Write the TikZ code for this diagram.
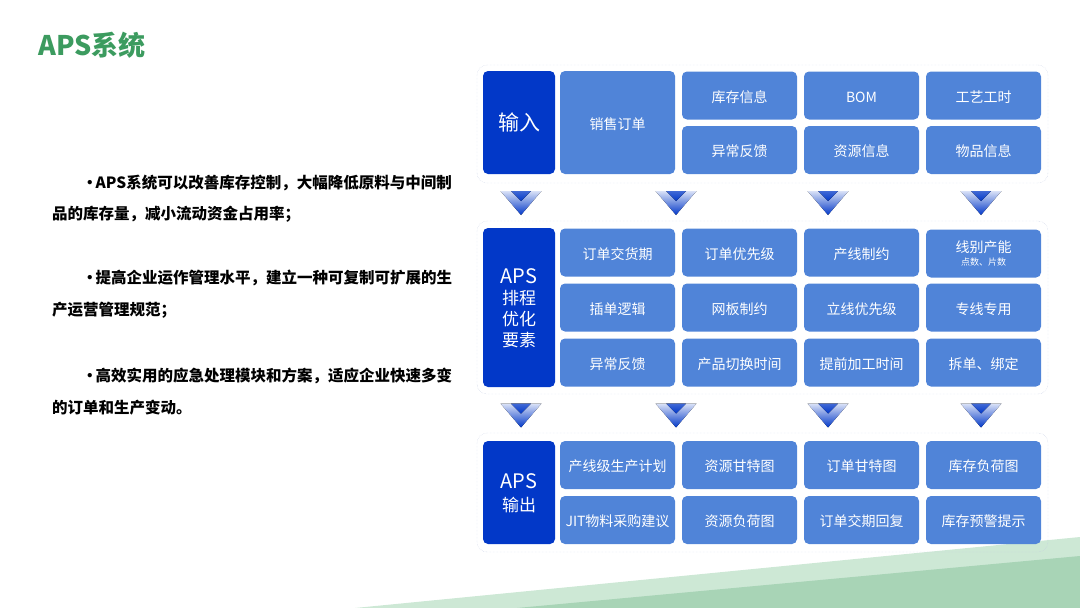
\documentclass[tikz,border=0pt]{standalone}
\usepackage{fontspec}
\setmainfont{Noto Sans CJK SC}
\usetikzlibrary{positioning,calc}

\definecolor{apsgreen}{RGB}{60,155,95}
\definecolor{headblue}{RGB}{2,56,200}
\definecolor{cellblue}{RGB}{80,132,216}
\definecolor{framegray}{RGB}{196,204,226}
\definecolor{leafpale}{RGB}{205,232,213}
\definecolor{leafdeep}{RGB}{168,212,182}

% chevron pointing down, centred on a coordinate
\newcommand{\chevdown}[1]{%
  \fill[top color=white!85!headblue, bottom color=headblue]
    ($(#1)+(-20.5,-12)$) -- ($(#1)+(20.5,-12)$) -- ($(#1)+(0,12)$) -- cycle;
  \fill[top color=headblue!75, bottom color=headblue]
    ($(#1)+(-10,-12)$) -- ($(#1)+(10,-12)$) -- ($(#1)+(0,-2)$) -- cycle;
}

\begin{document}
\begin{tikzpicture}[
    x=1pt, y=-1pt,
    panel/.style={
        draw=framegray,
        densely dotted,
        rounded corners=10pt,
        inner sep=0pt
    },
    head/.style={
        fill=headblue,
        rounded corners=5pt,
        minimum width=72pt,
        text=white,
        inner sep=0pt,
        align=center
    },
    cell/.style={
        fill=cellblue,
        rounded corners=5pt,
        minimum width=115pt,
        minimum height=48pt,
        text=white,
        inner sep=0pt,
        align=center,
        text height=1.3em,
        text depth=0pt,
        font=\fontsize{14}{16}\selectfont
    },
    bullet/.style={
        anchor=west,
        inner sep=0pt,
        font=\fontsize{15.5}{18}\selectfont\bfseries
    }
]
\useasboundingbox (0,0) rectangle (1080,608);

% green band at the bottom
\fill[leafpale] (355,608) -- (1080,537) -- (1080,608) -- cycle;
\fill[leafdeep] (517,608) -- (1080,556) -- (1080,608) -- cycle;

\node[anchor=west, inner sep=0pt, text=apsgreen,
      font=\fontsize{27}{30}\selectfont\bfseries] (title) at (38,45) {APS系统};

% left text
\node[bullet] (p1a) at (82,183) {•\kern-2pt APS系统可以改善库存控制，大幅降低原料与中间制};
\node[bullet] (p1b) at (52,214) {品的库存量，减小流动资金占用率；};
\node[bullet] (p2a) at (82,278) {•\kern-2pt 提高企业运作管理水平，建立一种可复制可扩展的生};
\node[bullet] (p2b) at (52,310) {产运营管理规范；};
\node[bullet] (p3a) at (82,376) {•\kern-2pt 高效实用的应急处理模块和方案，适应企业快速多变};
\node[bullet] (p3b) at (52,408) {的订单和生产变动。};

% frames
\node[panel, minimum width=571pt, minimum height=118pt] (frin) at (762.5,124) {};
\node[panel, minimum width=571pt, minimum height=173pt] (frplan) at (762.5,307.5) {};
\node[panel, minimum width=571pt, minimum height=119pt] (frout) at (762.5,492.5) {};

% input
\node[head, minimum height=103pt, text height=1.6em, text depth=0pt,
      font=\fontsize{21}{24}\selectfont] (inhead) at (519,122.5) {输入};
\node[cell, minimum height=103pt] (sales) at (617.5,122.5) {销售订单};
\node[cell] (stock) at (739.5,95.5) {库存信息};
\node[cell] (bom) at (861.5,95.5) {BOM};
\node[cell] (route) at (983.5,95.5) {工艺工时};
\node[cell] (abn) at (739.5,150) {异常反馈};
\node[cell] (res) at (861.5,150) {资源信息};
\node[cell] (item) at (983.5,150) {物品信息};

% planning factors
\node[head, minimum height=159pt, text depth=-8pt,
      font=\fontsize{17}{21}\selectfont] (planhead) at (519,307.5)
    {{\fontsize{20}{21}\selectfont APS}\\排程\\优化\\要素};
\node[cell] (due) at (617.5,252.5) {订单交货期};
\node[cell] (prio) at (739.5,252.5) {订单优先级};
\node[cell] (linecap) at (861.5,252.5) {产线制约};
\node[cell, text height=, text depth=] (linerate) at (983.5,253.5)
    {线别产能\\[-3pt]{\fontsize{9}{10}\selectfont 点数、片数}};
\node[cell] (insert) at (617.5,307.5) {插单逻辑};
\node[cell] (board) at (739.5,307.5) {网板制约};
\node[cell] (lineprio) at (861.5,307.5) {立线优先级};
\node[cell] (dedic) at (983.5,307.5) {专线专用};
\node[cell] (abn2) at (617.5,362.5) {异常反馈};
\node[cell] (switch) at (739.5,362.5) {产品切换时间};
\node[cell] (advance) at (861.5,362.5) {提前加工时间};
\node[cell] (split) at (983.5,362.5) {拆单、绑定};

% output
\node[head, minimum height=103pt, text depth=-6pt,
      font=\fontsize{17}{23}\selectfont] (outhead) at (519,492.5)
    {{\fontsize{20}{22}\selectfont APS}\\输出};
\node[cell] (lineplan) at (617.5,465) {产线级生产计划};
\node[cell] (resgantt) at (739.5,465) {资源甘特图};
\node[cell] (ordgantt) at (861.5,465) {订单甘特图};
\node[cell] (stockload) at (983.5,465) {库存负荷图};
\node[cell] (jit) at (617.5,520) {JIT物料采购建议};
\node[cell] (resload) at (739.5,520) {资源负荷图};
\node[cell] (reply) at (861.5,520) {订单交期回复};
\node[cell] (warn) at (983.5,520) {库存预警提示};

% chevrons between the frames
\coordinate (ca1) at (521,203);
\coordinate (ca2) at (676,203);
\coordinate (ca3) at (828,203);
\coordinate (ca4) at (981,203);
\coordinate (cb1) at (521,415.5);
\coordinate (cb2) at (676,415.5);
\coordinate (cb3) at (828,415.5);
\coordinate (cb4) at (981,415.5);
\chevdown{ca1}\chevdown{ca2}\chevdown{ca3}\chevdown{ca4}
\chevdown{cb1}\chevdown{cb2}\chevdown{cb3}\chevdown{cb4}
\end{tikzpicture}
\end{document}
